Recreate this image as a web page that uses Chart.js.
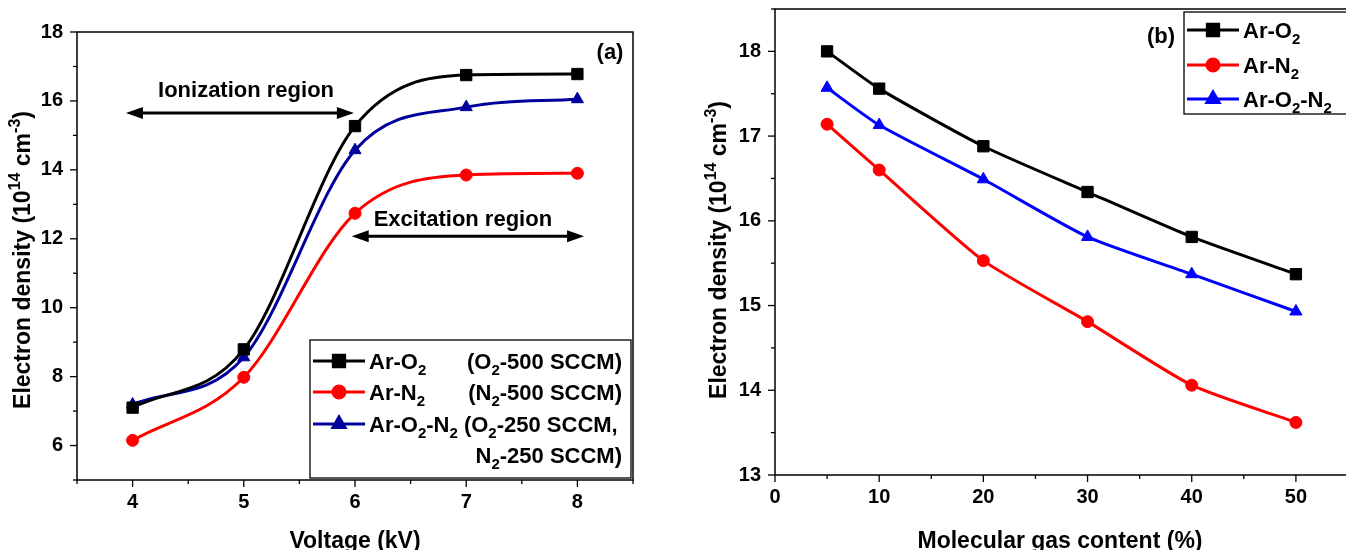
<!DOCTYPE html>
<html>
<head>
<meta charset="utf-8">
<script src="https://cdn.jsdelivr.net/npm/chart.js@4.4.0/dist/chart.umd.min.js"></script>
<style>
html, body { margin: 0; padding: 0; background: #fff; overflow: hidden; width: 1346px; height: 550px; }
#wa { position: absolute; left: 0; top: 0; width: 660px; height: 550px; }
#wb { position: absolute; left: 690px; top: -17px; width: 700px; height: 567px; }
</style>
</head>
<body>
<div id="wa"><canvas id="ca"></canvas></div>
<div id="wb"><canvas id="cb"></canvas></div>
<script>
// (a) electron density vs voltage
const voltageKV = [4, 5, 6, 7, 8];
const arO2_a = [7.10, 8.79, 15.27, 16.75, 16.78];
const arN2_a = [6.15, 7.98, 12.74, 13.85, 13.90];
const arO2N2_a = [7.19, 8.56, 14.57, 15.82, 16.05];

// (b) electron density vs molecular gas content
const gasContent = [5, 10, 20, 30, 40, 50];
const arO2_b = [18.00, 17.56, 16.88, 16.34, 15.81, 15.37];
const arN2_b = [17.14, 16.60, 15.53, 14.81, 14.06, 13.62];
const arO2N2_b = [17.57, 17.13, 16.49, 15.81, 15.37, 14.93];

const FONT = '"Liberation Sans", Arial, sans-serif';
const TITLE_FS = 23;
const TEXT_FS = 22;
Chart.defaults.font.family = FONT;
Chart.defaults.font.weight = 'bold';
Chart.defaults.color = '#000';

function pts(xs, ys) {
    return xs.map((x, i) => ({ x: x, y: ys[i] }));
}

// текст с индексами: [текст, 'n' | 'sub' | 'sup']
function runFont(mode, fs) {
    const s = mode === 'n' ? fs : Math.round(fs * 0.68);
    return 'bold ' + s + 'px ' + FONT;
}
function runOffset(mode, fs) {
    if (mode === 'sub') return fs * 0.28;
    if (mode === 'sup') return -fs * 0.42;
    return 0;
}
function richWidth(ctx, runs, fs) {
    let w = 0;
    runs.forEach(r => { ctx.font = runFont(r[1], fs); w += ctx.measureText(r[0]).width; });
    return w;
}
function drawRich(ctx, runs, x, y, fs, align) {
    const w = richWidth(ctx, runs, fs);
    let cx = align === 'center' ? x - w / 2 : (align === 'right' ? x - w : x);
    ctx.textAlign = 'left';
    ctx.textBaseline = 'alphabetic';
    ctx.fillStyle = '#000';
    runs.forEach(r => {
        ctx.font = runFont(r[1], fs);
        ctx.fillText(r[0], cx, y + runOffset(r[1], fs));
        cx += ctx.measureText(r[0]).width;
    });
}

function drawArrow(ctx, x1, x2, y) {
    const hl = 17, hw = 6;
    ctx.save();
    ctx.strokeStyle = '#000';
    ctx.fillStyle = '#000';
    ctx.lineWidth = 3;
    ctx.beginPath();
    ctx.moveTo(x1 + hl - 2, y);
    ctx.lineTo(x2 - hl + 2, y);
    ctx.stroke();
    ctx.beginPath();
    ctx.moveTo(x1, y); ctx.lineTo(x1 + hl, y - hw); ctx.lineTo(x1 + hl, y + hw); ctx.closePath();
    ctx.fill();
    ctx.beginPath();
    ctx.moveTo(x2, y); ctx.lineTo(x2 - hl, y - hw); ctx.lineTo(x2 - hl, y + hw); ctx.closePath();
    ctx.fill();
    ctx.restore();
}

function legendSample(ctx, ds, x1, x2, y) {
    ctx.save();
    ctx.strokeStyle = ds.borderColor;
    ctx.lineWidth = 3;
    ctx.beginPath(); ctx.moveTo(x1, y); ctx.lineTo(x2, y); ctx.stroke();
    ctx.fillStyle = ds.borderColor;
    ctx.strokeStyle = ds.borderColor;
    Chart.helpers.drawPoint(ctx, { pointStyle: ds.pointStyle, radius: ds.pointRadius, rotation: 0, borderWidth: 1 }, (x1 + x2) / 2, y);
    ctx.restore();
}

// рамка, засечки, подписи осей, легенда
function decor(o) {
    return {
        id: 'decor',
        afterDraw(chart) {
            const ctx = chart.ctx;
            const a = chart.chartArea;
            const xs = chart.scales.x, ys = chart.scales.y;
            ctx.save();
            ctx.strokeStyle = '#000';
            ctx.lineWidth = 1.5;
            ctx.strokeRect(a.left, a.top, a.right - a.left, a.bottom - a.top);
            ctx.lineWidth = 1.3;
            xs.ticks.forEach(t => {
                const p = xs.getPixelForValue(t.value);
                const len = o.xMajor(t.value) ? 7 : 4;
                ctx.beginPath(); ctx.moveTo(p, a.bottom); ctx.lineTo(p, a.bottom + len); ctx.stroke();
            });
            ys.ticks.forEach(t => {
                const p = ys.getPixelForValue(t.value);
                const len = o.yMajor(t.value) ? 7 : 4;
                ctx.beginPath(); ctx.moveTo(a.left, p); ctx.lineTo(a.left - len, p); ctx.stroke();
            });

            // подписи осей
            ctx.save();
            ctx.translate(o.yTitleX, o.yTitleY);
            ctx.rotate(-Math.PI / 2);
            drawRich(ctx, [['Electron density (10', 'n'], ['14', 'sup'], [' cm', 'n'], ['-3', 'sup'], [')', 'n']], 0, 8, TITLE_FS, 'center');
            ctx.restore();
            drawRich(ctx, [[o.xTitle, 'n']], o.xTitleX, o.xTitleY, TITLE_FS, 'center');

            drawRich(ctx, [[o.panel, 'n']], o.panelX, o.panelY, TEXT_FS, 'center');

            // легенда
            const L = o.legend;
            ctx.lineWidth = 1.3;
            ctx.strokeStyle = '#000';
            ctx.strokeRect(L.x, L.y, L.w, L.h);
            L.rows.forEach(r => {
                if (r.ds !== undefined) legendSample(ctx, chart.data.datasets[r.ds], L.x + 3, L.x + 55, r.y);
                drawRich(ctx, r.left, L.x + 59, r.y + 8, TEXT_FS, 'left');
                if (r.right) drawRich(ctx, r.right, L.x + L.w - 9, r.y + 8, TEXT_FS, 'right');
            });

            if (o.extra) o.extra(ctx, xs, ys);
            ctx.restore();
        }
    };
}

function ds(label, xs, ys, color, style, r) {
    return {
        label: label,
        data: pts(xs, ys),
        borderColor: color,
        backgroundColor: color,
        borderWidth: 3,
        pointStyle: style,
        pointRadius: r,
        pointBorderWidth: 1,
        pointHoverRadius: r,
        tension: 0.4
    };
}

function axisCfg(min, max, step, isMajor, fitSize, isX) {
    const c = {
        type: 'linear',
        min: min,
        max: max,
        grid: { display: false, drawTicks: false },
        border: { display: false },
        ticks: {
            stepSize: step,
            autoSkip: false,
            maxRotation: 0,
            padding: isX ? 10 : 14,
            color: '#000',
            font: { size: 20, weight: 'bold' },
            callback: v => isMajor(v) ? String(Math.round(v)) : ''
        }
    };
    if (isX) c.afterFit = s => { s.height = fitSize; };
    else c.afterFit = s => { s.width = fitSize; };
    return c;
}

const commonOpts = {
    responsive: true,
    maintainAspectRatio: false,
    animation: false,
    devicePixelRatio: 1,
    plugins: { legend: { display: false }, tooltip: { enabled: false } }
};

// ---- (a)
const isIntA = v => Math.abs(v - Math.round(v)) < 1e-6;
const evenA = v => isIntA(v) && Math.round(v) % 2 === 0;
new Chart(document.getElementById('ca'), {
    type: 'line',
    data: {
        datasets: [
            ds('Ar-O2', voltageKV, arO2_a, '#000000', 'rect', 8),
            ds('Ar-N2', voltageKV, arN2_a, '#ff0000', 'circle', 6),
            ds('Ar-O2-N2', voltageKV, arO2N2_a, '#00009c', 'triangle', 7)
        ].map(d => Object.assign(d, { cubicInterpolationMode: 'monotone' }))
    },
    options: Object.assign({}, commonOpts, {
        layout: { padding: { left: 0, top: 32, right: 27, bottom: 0 } },
        scales: {
            x: axisCfg(3.5, 8.5, 0.5, isIntA, 70, true),
            y: axisCfg(5, 18, 1, evenA, 77, false)
        }
    }),
    plugins: [decor({
        xMajor: isIntA, yMajor: evenA,
        yTitleX: 22, yTitleY: 260,
        xTitle: 'Voltage (kV)', xTitleX: 355, xTitleY: 548,
        panel: '(a)', panelX: 610, panelY: 59,
        legend: {
            x: 310, y: 340, w: 321, h: 138,
            rows: [
                { ds: 0, y: 361, left: [['Ar-O', 'n'], ['2', 'sub']], right: [['(O', 'n'], ['2', 'sub'], ['-500 SCCM)', 'n']] },
                { ds: 1, y: 392, left: [['Ar-N', 'n'], ['2', 'sub']], right: [['(N', 'n'], ['2', 'sub'], ['-500 SCCM)', 'n']] },
                { ds: 2, y: 424, left: [['Ar-O', 'n'], ['2', 'sub'], ['-N', 'n'], ['2', 'sub'], [' (O', 'n'], ['2', 'sub'], ['-250 SCCM,', 'n']] },
                { y: 455, left: [], right: [['N', 'n'], ['2', 'sub'], ['-250 SCCM)', 'n']] }
            ]
        },
        extra: (ctx, xs, ys) => {
            drawArrow(ctx, xs.getPixelForValue(3.94), xs.getPixelForValue(5.99), ys.getPixelForValue(15.65));
            drawArrow(ctx, xs.getPixelForValue(5.97), xs.getPixelForValue(8.06), ys.getPixelForValue(12.07));
            drawRich(ctx, [['Ionization region', 'n']], xs.getPixelForValue(5.02), ys.getPixelForValue(16.1), TEXT_FS, 'center');
            drawRich(ctx, [['Excitation region', 'n']], xs.getPixelForValue(6.97), ys.getPixelForValue(12.37), TEXT_FS, 'center');
        }
    })]
});

// ---- (b)  (canvas shifted up by 17px)
const tenB = v => Math.abs(v / 10 - Math.round(v / 10)) < 1e-6;
const intB = v => Math.abs(v - Math.round(v)) < 1e-6;
new Chart(document.getElementById('cb'), {
    type: 'line',
    data: {
        datasets: [
            ds('Ar-O2', gasContent, arO2_b, '#000000', 'rect', 8),
            ds('Ar-N2', gasContent, arN2_b, '#ff0000', 'circle', 6),
            ds('Ar-O2-N2', gasContent, arO2N2_b, '#0000ff', 'triangle', 7)
        ].map(d => Object.assign(d, { tension: 0.2 }))
    },
    options: Object.assign({}, commonOpts, {
        layout: { padding: { left: 0, top: 0, right: 42, bottom: 0 } },
        scales: {
            x: axisCfg(0, 55, 5, tenB, 75, true),
            y: axisCfg(13, 18.5, 0.5, intB, 85, false)
        }
    }),
    plugins: [decor({
        xMajor: tenB, yMajor: intB,
        yTitleX: 28, yTitleY: 267,
        xTitle: 'Molecular gas content (%)', xTitleX: 370, xTitleY: 565,
        panel: '(b)', panelX: 471, panelY: 60,
        legend: {
            x: 494, y: 29, w: 200, h: 102,
            rows: [
                { ds: 0, y: 47, left: [['Ar-O', 'n'], ['2', 'sub']] },
                { ds: 1, y: 82, left: [['Ar-N', 'n'], ['2', 'sub']] },
                { ds: 2, y: 116, left: [['Ar-O', 'n'], ['2', 'sub'], ['-N', 'n'], ['2', 'sub']] }
            ]
        }
    })]
});
</script>
</body>
</html>
